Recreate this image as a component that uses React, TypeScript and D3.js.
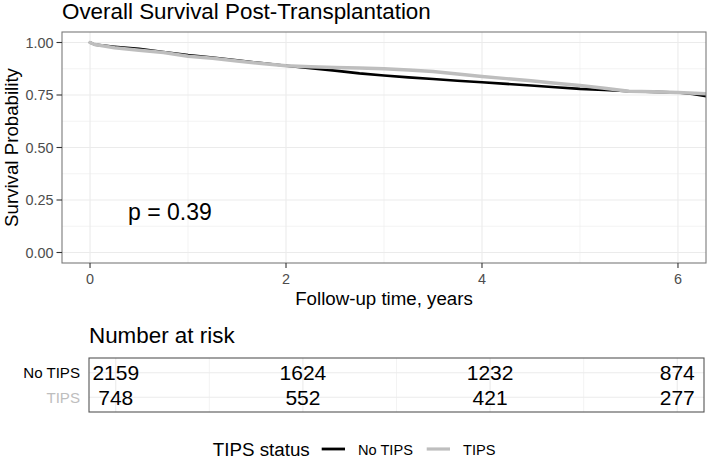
import React from 'react';
import * as d3 from 'd3';

const W = 708;
const H = 459;

const chartTitle = 'Overall Survival Post-Transplantation';
const xAxisTitle = 'Follow-up time, years';
const yAxisTitle = 'Survival Probability';
const pValueLabel = 'p = 0.39';
const riskTitle = 'Number at risk';
const legendTitle = 'TIPS status';

const xTicks = [0, 2, 4, 6];
const xMinor = [1, 3, 5];
const yTicks = [0, 0.25, 0.5, 0.75, 1];
const yTickLabels = ['0.00', '0.25', '0.50', '0.75', '1.00'];
const yMinor = [0.125, 0.375, 0.625, 0.875];

const groups = ['No TIPS', 'TIPS'];
const groupColors = ['#000000', '#BEBEBE'];

const noTipsTime = [0, 0.05, 0.25, 0.5, 0.75, 1.0, 1.25, 1.5, 1.75, 2.0, 2.25, 2.5, 2.75, 3.0, 3.25, 3.5, 3.75, 4.0, 4.25, 4.5, 4.75, 5.0, 5.25, 5.5, 5.75, 6.0, 6.15, 6.3];
const noTipsSurv = [1.0, 0.99, 0.98, 0.97, 0.955, 0.94, 0.928, 0.915, 0.902, 0.889, 0.878, 0.866, 0.853, 0.843, 0.834, 0.826, 0.818, 0.811, 0.803, 0.795, 0.787, 0.779, 0.774, 0.768, 0.765, 0.762, 0.755, 0.743];
const tipsTime = [0, 0.05, 0.25, 0.5, 0.75, 1.0, 1.25, 1.5, 1.75, 2.0, 2.25, 2.5, 2.75, 3.0, 3.25, 3.5, 3.75, 4.0, 4.25, 4.5, 4.75, 5.0, 5.25, 5.5, 5.75, 6.0, 6.3];
const tipsSurv = [1.0, 0.99, 0.975, 0.963, 0.952, 0.935, 0.925, 0.912, 0.9, 0.889, 0.885, 0.881, 0.878, 0.875, 0.869, 0.862, 0.85, 0.838, 0.828, 0.818, 0.806, 0.795, 0.782, 0.768, 0.765, 0.762, 0.756];

const riskTimes = [0, 2, 4, 6];
const riskNoTips = [2159, 1624, 1232, 874];
const riskTips = [748, 552, 421, 277];

const FONT = '"Liberation Sans", Arial, Helvetica, sans-serif';

export default function App() {
  const panel = { left: 62, right: 706, top: 32, bottom: 263 };
  const table = { left: 89, right: 704, top: 358, bottom: 412 };
  const xDomain: [number, number] = [-0.286, 6.286];

  const x = d3.scaleLinear().domain(xDomain).range([panel.left, panel.right]);
  const y = d3.scaleLinear().domain([-0.05, 1.05]).range([panel.bottom, panel.top]);
  const xr = d3.scaleLinear().domain(xDomain).range([table.left, table.right]);
  const yr = d3.scalePoint<string>().domain(groups).range([372.8, 397.3]);

  const line = d3
    .line<[number, number]>()
    .x((d) => x(d[0]))
    .y((d) => y(d[1]))
    .curve(d3.curveLinear);

  const series: { name: string; color: string; width: number; pts: [number, number][] }[] = [
    { name: groups[0], color: groupColors[0], width: 2.6, pts: noTipsTime.map((t, i) => [t, noTipsSurv[i]]) },
    { name: groups[1], color: groupColors[1], width: 3.5, pts: tipsTime.map((t, i) => [t, tipsSurv[i]]) },
  ];
  const riskRows = [riskNoTips, riskTips];

  const gridMajor = '#EBEBEB';
  const borderCol = '#7a7a7a';

  return (
    <svg width={W} height={H} style={{ position: 'absolute', left: 0, top: 0, background: '#fff' }} fontFamily={FONT}>
      <defs>
        <clipPath id="panelClip">
          <rect x={panel.left} y={panel.top} width={panel.right - panel.left} height={panel.bottom - panel.top} />
        </clipPath>
      </defs>
      <rect x={0} y={0} width={W} height={H} fill="#fff" />

      {/* title */}
      <text x={62} y={19} fontSize={22.4} fill="#000">{chartTitle}</text>

      {/* main panel grid */}
      {xMinor.map((t) => (
        <line key={'xm' + t} x1={x(t)} x2={x(t)} y1={panel.top} y2={panel.bottom} stroke={gridMajor} strokeWidth={0.6} />
      ))}
      {yMinor.map((v) => (
        <line key={'ym' + v} x1={panel.left} x2={panel.right} y1={y(v)} y2={y(v)} stroke={gridMajor} strokeWidth={0.6} />
      ))}
      {xTicks.map((t) => (
        <line key={'xg' + t} x1={x(t)} x2={x(t)} y1={panel.top} y2={panel.bottom} stroke={gridMajor} strokeWidth={1.1} />
      ))}
      {yTicks.map((v) => (
        <line key={'yg' + v} x1={panel.left} x2={panel.right} y1={y(v)} y2={y(v)} stroke={gridMajor} strokeWidth={1.1} />
      ))}

      {/* curves */}
      <g clipPath="url(#panelClip)">
        {series.map((s) => (
          <path key={s.name} d={line(s.pts) || ''} fill="none" stroke={s.color} strokeWidth={s.width} strokeLinejoin="round" strokeLinecap="round" />
        ))}
      </g>

      {/* panel border */}
      <rect x={panel.left} y={panel.top} width={panel.right - panel.left} height={panel.bottom - panel.top} fill="none" stroke={borderCol} strokeWidth={1.1} />

      {/* y axis */}
      {yTicks.map((v, i) => (
        <g key={'yt' + v}>
          <line x1={panel.left - 5.5} x2={panel.left} y1={y(v)} y2={y(v)} stroke="#333" strokeWidth={1.1} />
          <text x={53.5} y={y(v)} dy="0.36em" textAnchor="end" fontSize={14.4} fill="#4D4D4D">{yTickLabels[i]}</text>
        </g>
      ))}
      {/* x axis */}
      {xTicks.map((t) => (
        <g key={'xt' + t}>
          <line x1={x(t)} x2={x(t)} y1={panel.bottom} y2={panel.bottom + 5} stroke="#333" strokeWidth={1.1} />
          <text x={x(t)} y={283.5} textAnchor="middle" fontSize={14.4} fill="#4D4D4D">{t}</text>
        </g>
      ))}
      <text x={(panel.left + panel.right) / 2} y={305} textAnchor="middle" fontSize={18.7} fill="#000">{xAxisTitle}</text>
      <text transform={`translate(17.5,${(panel.top + panel.bottom) / 2}) rotate(-90)`} textAnchor="middle" fontSize={18.7} fill="#000">{yAxisTitle}</text>

      {/* p value */}
      <text x={128} y={220} fontSize={23} fill="#000">{pValueLabel}</text>

      {/* risk table */}
      <text x={89} y={343} fontSize={22.4} fill="#000">{riskTitle}</text>
      {xMinor.map((t) => (
        <line key={'rxm' + t} x1={xr(t)} x2={xr(t)} y1={table.top} y2={table.bottom} stroke={gridMajor} strokeWidth={0.6} />
      ))}
      {xTicks.map((t) => (
        <line key={'rxg' + t} x1={xr(t)} x2={xr(t)} y1={table.top} y2={table.bottom} stroke={gridMajor} strokeWidth={1.1} />
      ))}
      {groups.map((g) => (
        <line key={'ryg' + g} x1={table.left} x2={table.right} y1={yr(g)} y2={yr(g)} stroke={gridMajor} strokeWidth={1.1} />
      ))}
      <rect x={table.left} y={table.top} width={table.right - table.left} height={table.bottom - table.top} fill="none" stroke="#555" strokeWidth={1.1} />
      {groups.map((g, gi) => (
        <g key={'rr' + g}>
          <text x={80} y={yr(g)} dy="0.36em" textAnchor="end" fontSize={15.1} fill={groupColors[gi]}>{g}</text>
          {riskTimes.map((t, ti) => (
            <text key={'rv' + t} x={xr(t)} y={yr(g)} dy="0.36em" textAnchor="middle" fontSize={21} fill="#000">{riskRows[gi][ti]}</text>
          ))}
        </g>
      ))}

      {/* legend */}
      <text x={212.7} y={455.5} fontSize={18.8} fill="#000">{legendTitle}</text>
      <line x1={321.7} x2={345} y1={449} y2={449} stroke={groupColors[0]} strokeWidth={2.8} />
      <text x={358} y={454.5} fontSize={14.6} fill="#000">{groups[0]}</text>
      <line x1={426.7} x2={450} y1={449} y2={449} stroke={groupColors[1]} strokeWidth={3.2} />
      <text x={463} y={454.5} fontSize={14.6} fill="#000">{groups[1]}</text>
    </svg>
  );
}
